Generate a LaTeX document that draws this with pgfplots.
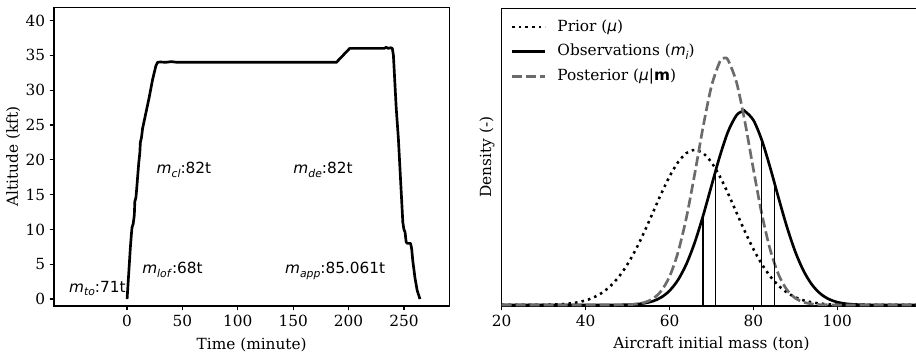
\documentclass[border=0pt]{standalone}
\usepackage{fontspec}
\setmainfont{DejaVu Serif}
\newfontfamily\dvs{DejaVu Sans}
\usepackage{pgfplots}
\pgfplotsset{compat=1.18}
\definecolor{postgray}{gray}{0.42}
\newcommand\fsz{\fontsize{11.5}{13.5}\selectfont}
\newcommand\sub[1]{\raisebox{-0.22em}{\fontsize{8.1}{9}\selectfont #1}}
\begin{document}
\begin{tikzpicture}
\useasboundingbox (0,0) rectangle (687pt,267.75pt);
\pgfplotsset{
 every axis/.append style={
  scale only axis, anchor=south west,
  axis line style={line width=0.9pt},
  tick align=outside, tick pos=left,
  major tick length=3.2pt,
  every tick/.style={black,line width=0.9pt},
  tick label style={font=\fsz},
  label style={font=\fsz},
  /pgf/number format/assume math mode=true,
 }
}
\begin{axis}[at={(40.5pt,38.25pt)}, width=296.5pt, height=224pt,
 xmin=-66, xmax=291, ymin=-1, ymax=41.9,
 xtick={0,50,...,250}, ytick={0,5,...,40},
 xlabel={Time (minute)}, ylabel={Altitude (kft)},
 xlabel style={at={(axis description cs:0.5,-0.1306)}, anchor=center},
 ylabel style={at={(axis description cs:-0.103,0.5)}, anchor=center},
]
\addplot[black, line width=2pt, line join=round] coordinates {
(0,0) (1,2.5) (2,5) (3,7.5) (4,9.5) (4.5,10.3) (5.5,10.8) (6.5,12) (7,14) (8,14.6)
(8.5,15.5) (9.5,17.5) (10.5,19.5) (11.5,21) (12,22.5) (13,23.2) (14,24.5) (16,26)
(18,27.5) (20,29) (23,31.5) (26,33.5) (27.5,34) (30,34.05) (35,34) (40,34.1) (45,34)
(189,34) (201,36) (232,36) (234,36.15) (236,36) (238,36.1) (239.5,36) (240.5,35)
(241.5,32) (243,27.5) (245,23) (247,17) (249,11) (250,10) (251,9.6) (252,8.2)
(253,8.0) (256,8.0) (257,7.2) (258,5.5) (260,3) (262,1.2) (264.5,0)
};
\node[anchor=base west, inner sep=0pt, font=\fsz\dvs] at (axis cs:-52.5,1.0) {\textit{m}\sub{\textit{to}}:71t};
\node[anchor=base west, inner sep=0pt, font=\fsz\dvs] at (axis cs:13.5,3.6) {\textit{m}\sub{\textit{lof}}:68t};
\node[anchor=base west, inner sep=0pt, font=\fsz\dvs] at (axis cs:26.5,18) {\textit{m}\sub{\textit{cl}}:82t};
\node[anchor=base west, inner sep=0pt, font=\fsz\dvs] at (axis cs:150,18) {\textit{m}\sub{\textit{de}}:82t};
\node[anchor=base west, inner sep=0pt, font=\fsz\dvs] at (axis cs:142.5,3.6) {\textit{m}\sub{\textit{app}}:85.061t};
\end{axis}

\begin{axis}[at={(376.3pt,38.25pt)}, width=314.6pt, height=223.3pt,
 xmin=20, xmax=120, ymin=-1, ymax=296.7,
 xtick={20,40,60,80,100}, ytick=\empty,
 xlabel={Aircraft initial mass (ton)}, ylabel={Density (-)},
 xlabel style={at={(axis description cs:0.5,-0.1276)}, anchor=center},
 ylabel style={at={(axis description cs:-0.035,0.5)}, anchor=center},
 legend cell align=left,
 legend image code/.code={\draw[#1] (0pt,0pt) -- (25pt,0pt); \path (32pt,0pt);},
 legend style={draw=none, fill=none, font=\fsz, at={(axis description cs:0.005,0.995)}, xshift=2pt, yshift=-3.75pt, anchor=north west, row sep=4.5pt,
   nodes={inner sep=1pt, text height=9pt, text depth=3pt}},
]
\addplot[black, line width=1.9pt, dash pattern=on 1.9pt off 3.1pt, smooth] coordinates {
(20,0) (24,0.02) (28,0.08) (30,0.18) (32,0.38) (34,0.75) (36,1.43) (38,2.62) (40,4.59)
(42,7.73) (44,12.47) (46,19.33) (48,28.69) (50,40.88) (52,55.86) (54,73.24) (56,92.10)
(58,111.07) (60,128.5) (62,142.6) (64,151.8) (66,155) (68,151.8) (70,142.6) (72,128.5)
(74,111.07) (76,92.10) (78,73.24) (80,55.86) (82,40.88) (84,28.69) (86,19.33) (88,12.47)
(90,7.73) (92,4.59) (94,2.62) (96,1.43) (98,0.75) (100,0.38) (102,0.18) (104,0.08)
(108,0.02) (112,0) (120,0)
};
\addlegendentry{Prior ({\dvs\itshape μ})}
\addplot[black, line width=2pt, smooth] coordinates {
(20,0) (40,0) (44,0.01) (48,0.12) (50,0.31) (52,0.77) (54,1.77) (56,3.79) (58,7.60)
(60,14.24) (62,24.93) (64,40.76) (66,62.35) (68,89.2) (70,119.2) (72,148.9) (74,173.9)
(76,189.9) (77.6,194) (78,193.7) (80,184.8) (82,164.8) (84,137.3) (86,107.0) (88,77.9)
(90,53.0) (92,33.75) (94,20.08) (96,11.16) (98,5.80) (100,2.82) (102,1.28) (104,0.54)
(106,0.22) (108,0.08) (112,0.01) (120,0)
};
\addlegendentry{Observations ({\dvs\itshape m\sub{i}})}
\addplot[postgray, line width=2pt, dash pattern=on 7.5pt off 3pt, smooth] coordinates {
(20,0) (42,0) (46,0.02) (50,0.30) (52,0.91) (54,2.49) (56,6.21) (58,13.97) (60,28.43)
(62,52.31) (64,87.0) (66,130.9) (68,178.0) (70,218.8) (72,243.3) (73.1,247) (74,244.5)
(76,222.2) (78,182.5) (80,135.6) (82,91.0) (84,55.3) (86,30.36) (88,15.07) (90,6.76)
(92,2.74) (94,1.01) (96,0.33) (100,0.03) (104,0) (120,0)
};
\addlegendentry{Posterior ({\dvs\itshape μ}{\dvs |}{\dvs\bfseries m})}
\addplot[black, line width=1pt, forget plot] coordinates {(68,0) (68,89.2)};
\addplot[black, line width=1pt, forget plot] coordinates {(71,0) (71,134.4)};
\addplot[black, line width=1pt, forget plot] coordinates {(82,0) (82,164.8)};
\addplot[black, line width=1pt, forget plot] coordinates {(85.061,0) (85.061,121.3)};
\end{axis}
\end{tikzpicture}
\end{document}
